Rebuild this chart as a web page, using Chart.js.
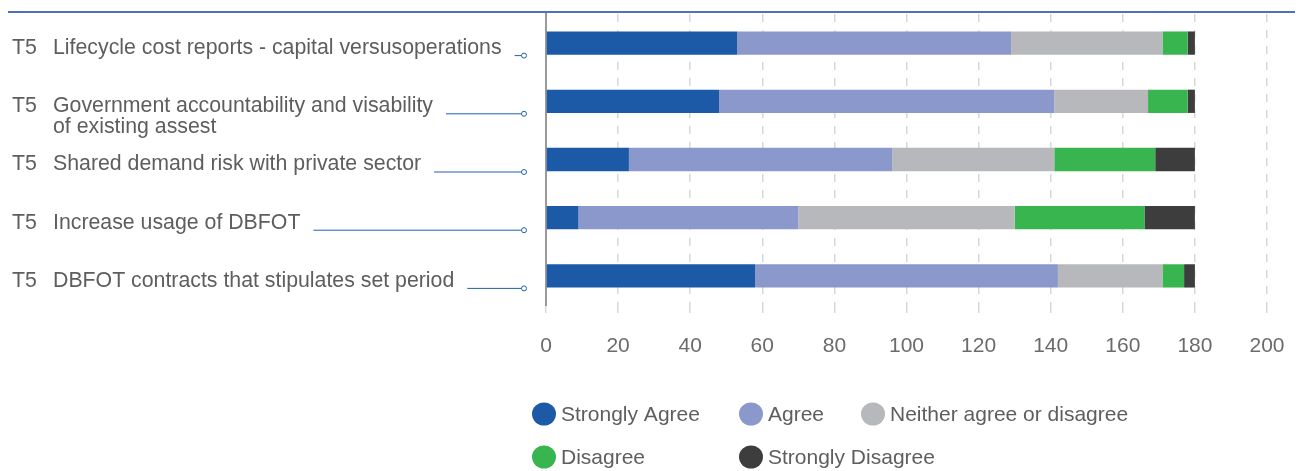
<!DOCTYPE html>
<html>
<head>
<meta charset="utf-8">
<script src="https://cdn.jsdelivr.net/npm/chart.js@4/dist/chart.umd.min.js"></script>
<style>
  html, body { margin: 0; padding: 0; background: #ffffff; }
  #wrap { width: 1298px; height: 471px; position: relative; }
</style>
</head>
<body>
<div id="wrap"><canvas id="chart" width="1298" height="471"></canvas></div>
<script>
// Survey items (multi-line where the statement wraps)
const itemCode = 'T5';
const categories = [
  ['Lifecycle cost reports - capital versusoperations'],
  ['Government accountability and visability', 'of existing assest'],
  ['Shared demand risk with private sector'],
  ['Increase usage of DBFOT'],
  ['DBFOT contracts that stipulates set period']
];

// Response counts per item
const seriesNames = ['Strongly Agree', 'Agree', 'Neither agree or disagree', 'Disagree', 'Strongly Disagree'];
const stronglyAgree    = [53, 48, 23, 9, 58];
const agree            = [76, 93, 73, 61, 84];
const neither          = [42, 26, 45, 60, 29];
const disagree         = [7, 11, 28, 36, 6];
const stronglyDisagree = [2, 2, 11, 14, 3];

// Count axis ticks
const xTickValues = [0, 20, 40, 60, 80, 100, 120, 140, 160, 180, 200];

const seriesColors = ['#1c5aa8', '#8a98cb', '#b7b8bb', '#39b54f', '#3d3d3d'];
const seriesValues = [stronglyAgree, agree, neither, disagree, stronglyDisagree];

const FONT = '"Liberation Sans", Arial, sans-serif';
const TEXT_GREY = '#5e5e5e';
const LEADER_BLUE = '#2160ae';

// Thin rule across the top of the figure
const topRule = {
  id: 'topRule',
  beforeDraw(chart) {
    const ctx = chart.ctx;
    ctx.save();
    ctx.strokeStyle = '#5070b7';
    ctx.lineWidth = 2;
    ctx.beginPath();
    ctx.moveTo(8, 12);
    ctx.lineTo(1295, 12);
    ctx.stroke();
    ctx.restore();
  }
};

// Item labels on the left with a leader line ending in a small ring
const itemLabels = {
  id: 'itemLabels',
  afterDraw(chart) {
    const ctx = chart.ctx;
    const yScale = chart.scales.y;
    const ringX = chart.chartArea.left - 22;
    ctx.save();
    ctx.font = '21.3px ' + FONT;
    ctx.textBaseline = 'middle';
    ctx.textAlign = 'left';
    chart.data.labels.forEach((lines, i) => {
      const yc = yScale.getPixelForValue(i);
      const firstY = yc + 5;
      ctx.fillStyle = TEXT_GREY;
      ctx.fillText(itemCode, 12, firstY);
      lines.forEach((line, k) => ctx.fillText(line, 53, firstY + k * 21));
      const textEnd = 53 + ctx.measureText(lines[0]).width;
      const ly = yc + 12.5;
      ctx.strokeStyle = LEADER_BLUE;
      ctx.lineWidth = 1;
      ctx.beginPath();
      ctx.moveTo(textEnd + 13, ly);
      ctx.lineTo(ringX - 2.5, ly);
      ctx.stroke();
      ctx.beginPath();
      ctx.arc(ringX, ly, 2.5, 0, Math.PI * 2);
      ctx.fillStyle = '#ffffff';
      ctx.fill();
      ctx.stroke();
    });
    ctx.restore();
  }
};

// Two-row legend with round swatches
const roundLegend = {
  id: 'roundLegend',
  afterDraw(chart) {
    const ctx = chart.ctx;
    const left = chart.chartArea.left - 14;
    const rows = [
      { y: 414, items: [0, 1, 2], offsets: [0, 207, 329] },
      { y: 457, items: [3, 4], offsets: [0, 207] }
    ];
    ctx.save();
    ctx.font = '21px ' + FONT;
    ctx.textBaseline = 'middle';
    ctx.textAlign = 'left';
    rows.forEach(row => {
      row.items.forEach((idx, j) => {
        const ds = chart.data.datasets[idx];
        const x = left + row.offsets[j];
        ctx.fillStyle = ds.backgroundColor;
        ctx.beginPath();
        ctx.ellipse(x + 12, row.y, 12, 11.5, 0, 0, Math.PI * 2);
        ctx.fill();
        ctx.fillStyle = TEXT_GREY;
        ctx.fillText(ds.label, x + 29, row.y + 1);
      });
    });
    ctx.restore();
  }
};

new Chart(document.getElementById('chart'), {
  type: 'bar',
  data: {
    labels: categories,
    datasets: seriesNames.map((name, i) => ({
      label: name,
      data: seriesValues[i],
      backgroundColor: seriesColors[i],
      borderWidth: 0,
      categoryPercentage: 0.8,
      barPercentage: 0.5
    }))
  },
  options: {
    indexAxis: 'y',
    responsive: false,
    animation: false,
    devicePixelRatio: 1,
    layout: { padding: { left: 0, right: 31, top: 14, bottom: 0 } },
    plugins: {
      legend: { display: false },
      tooltip: { enabled: false }
    },
    scales: {
      x: {
        stacked: true,
        min: 0,
        max: 200,
        afterBuildTicks(scale) {
          scale.ticks = xTickValues.map(v => ({ value: v }));
        },
        afterFit(scale) {
          scale.height = 166;
          scale.paddingLeft = 0;
          scale.paddingRight = 0;
        },
        grid: {
          color: '#d8d8d8',
          lineWidth: 1.5,
          drawTicks: true,
          tickLength: 8,
          tickColor: '#d8d8d8'
        },
        border: { display: false, dash: [8, 8] },
        ticks: {
          color: '#6b6b6b',
          font: { family: FONT, size: 21 },
          padding: 21,
          maxRotation: 0
        }
      },
      y: {
        stacked: true,
        afterFit(scale) { scale.width = 546; },
        grid: { display: false },
        border: { display: true, color: '#9a9a9a', width: 2 },
        ticks: { display: false }
      }
    }
  },
  plugins: [topRule, itemLabels, roundLegend]
});
</script>
</body>
</html>
